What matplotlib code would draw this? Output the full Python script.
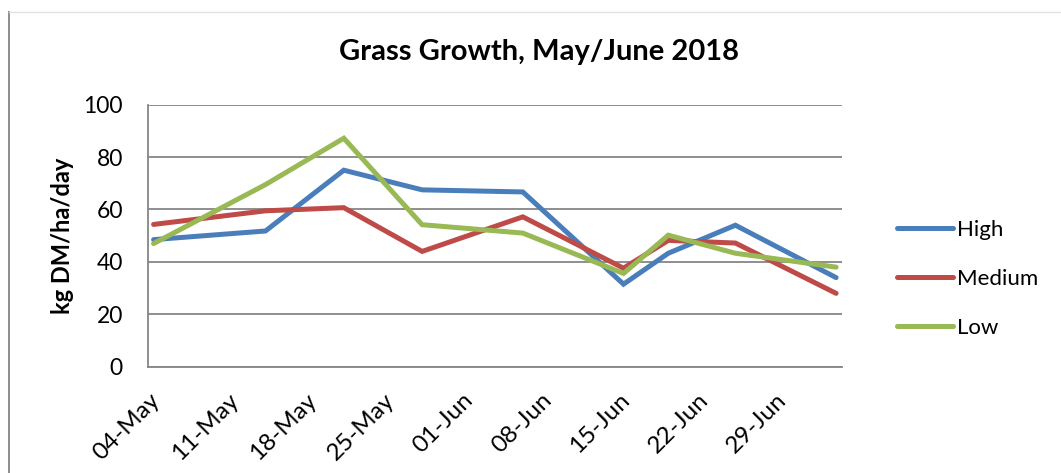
import matplotlib
matplotlib.use("Agg")
import matplotlib.pyplot as plt
import matplotlib.dates as mdates
import matplotlib.transforms as mtransforms
from matplotlib.lines import Line2D
import numpy as np
import datetime as dt

plt.rcParams['font.family'] = ['Lato', 'DejaVu Sans']

title = "Grass Growth, May/June 2018"
ylabel = "kg DM/ha/day"
dates = ["2018-05-04", "2018-05-14", "2018-05-21", "2018-05-28", "2018-06-06",
         "2018-06-15", "2018-06-19", "2018-06-25", "2018-07-04"]
high = [48.5, 51.8, 75.0, 67.5, 66.7, 31.5, 43.3, 54.0, 34.0]
medium = [54.3, 59.5, 60.7, 44.0, 57.2, 37.6, 48.2, 47.2, 28.0]
low = [47.0, 69.5, 87.2, 54.2, 51.0, 35.6, 50.2, 43.3, 38.0]
series_names = ["High", "Medium", "Low"]
colors = ["#4A7EBB", "#BE4B48", "#98B954"]
tick_start = "2018-05-04"
n_ticks = 9
yticks = [0, 20, 40, 60, 80, 100]

W, H = 1061, 473
fig = plt.figure(figsize=(W / 100, H / 100), dpi=100)
ax = fig.add_axes([148 / W, 1 - 366.7 / H, (841.7 - 148) / W, (366.7 - 104.7) / H])

x = [dt.datetime.strptime(d, "%Y-%m-%d") for d in dates]
for vals, name, c in zip([high, medium, low], series_names, colors):
    ax.plot(x, vals, color=c, lw=3.6, label=name, solid_capstyle='round',
            solid_joinstyle='miter')

half = dt.timedelta(hours=12)
ax.set_xlim(x[0] - half, x[-1] + half)
ax.set_ylim(0, 100)
ax.set_yticks(yticks)
t0 = dt.datetime.strptime(tick_start, "%Y-%m-%d")
ticks = [t0 + dt.timedelta(days=7 * i) for i in range(n_ticks)]
ax.set_xticks(ticks)
ax.xaxis.set_major_formatter(mdates.DateFormatter("%d-%b"))
ax.tick_params(axis='x', length=0, pad=26, labelsize=17.5)
ax.tick_params(axis='y', length=0, pad=18, labelsize=16.5)
offset = mtransforms.ScaledTranslation(3 / 100, 6 / 100, fig.dpi_scale_trans)
for lab in ax.get_xticklabels():
    lab.set_rotation(45)
    lab.set_ha('right')
    lab.set_rotation_mode('anchor')
    lab.set_va('center')
    lab.set_transform(lab.get_transform() + offset)

ax.grid(axis='y', color='#868686', lw=1.3)
ax.set_axisbelow(True)
for s in ['top', 'right']:
    ax.spines[s].set_visible(False)
for s in ['left', 'bottom']:
    ax.spines[s].set_color('#868686')
    ax.spines[s].set_linewidth(1.3)

ax.set_ylabel(ylabel, fontsize=17, fontweight='bold', labelpad=7)
fig.text(539 / W, 1 - 52 / H, title, ha='center', va='center',
         fontsize=21, fontweight='bold')

leg = ax.legend(loc='center left', bbox_to_anchor=(897 / W, 1 - 279 / H),
                bbox_transform=fig.transFigure, frameon=False, fontsize=16,
                handlelength=2.5, handletextpad=0.2, labelspacing=1.3,
                borderpad=0, borderaxespad=0)

# outer chart-area border (cropped)
fig.add_artist(Line2D([8.5 / W, 8.5 / W], [0, 1 - 12.3 / H], transform=fig.transFigure,
                      color='#8c8c8c', lw=1.4))
fig.add_artist(Line2D([8.5 / W, 1], [1 - 12.3 / H, 1 - 12.3 / H], transform=fig.transFigure,
                      color='#e3e3e3', lw=1.0))

fig.savefig("out.png", dpi=100)
